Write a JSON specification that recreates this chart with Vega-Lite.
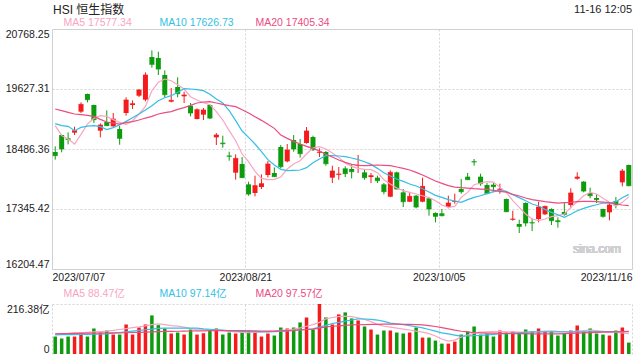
{
  "$schema": "https://vega.github.io/schema/vega-lite/v6.json",
  "background": "white",
  "padding": {"left": 4, "top": 3, "right": 0, "bottom": 0},
  "title": {"text": "HSI 恒生指数", "anchor": "start", "frame": "group", "fontSize": 12, "fontWeight": "normal", "color": "#222222", "dx": 1, "dy": 13, "offset": 0},
  "datasets": {
    "k": [
      {"i":1,"o":18429,"h":18537,"l":18284,"c":18360,"v":75.5,"ma5":18930,"ma10":18968,"ma20":19247,"vma5":87,"vma10":83,"vma20":87},
      {"i":2,"o":18753,"h":18765,"l":18423,"c":18486,"v":66.8,"ma5":18740,"ma10":18930,"ma20":19215,"vma5":88,"vma10":83.5,"vma20":88},
      {"i":3,"o":18689,"h":18803,"l":18575,"c":18670,"v":75.5,"ma5":18676,"ma10":18917,"ma20":19183,"vma5":89,"vma10":84,"vma20":88},
      {"i":4,"o":18797,"h":18911,"l":18752,"c":18835,"v":75.5,"ma5":18581,"ma10":18835,"ma20":19152,"vma5":91,"vma10":84,"vma20":89},
      {"i":5,"o":19196,"h":19373,"l":19171,"c":19335,"v":92.9,"ma5":18765,"ma10":18898,"ma20":19139,"vma5":92,"vma10":84.5,"vma20":89},
      {"i":6,"o":19532,"h":19540,"l":19373,"c":19424,"v":75.5,"ma5":18961,"ma10":18923,"ma20":19126,"vma5":94,"vma10":85,"vma20":90},
      {"i":7,"o":19323,"h":19330,"l":18980,"c":19044,"v":110.4,"ma5":19069,"ma10":18930,"ma20":19107,"vma5":95.5,"vma10":85.5,"vma20":90},
      {"i":8,"o":18835,"h":18974,"l":18708,"c":18942,"v":92.9,"ma5":19120,"ma10":18911,"ma20":19050,"vma5":97,"vma10":85.7,"vma20":90},
      {"i":9,"o":18999,"h":19221,"l":18925,"c":18930,"v":101.6,"ma5":19107,"ma10":18854,"ma20":18999,"vma5":99,"vma10":87,"vma20":91},
      {"i":10,"o":18917,"h":19171,"l":18910,"c":19056,"v":84.2,"ma5":19044,"ma10":18892,"ma20":18980,"vma5":102,"vma10":90,"vma20":91},
      {"i":11,"o":18866,"h":18930,"l":18568,"c":18689,"v":84.2,"ma5":18993,"ma10":18949,"ma20":18961,"vma5":106,"vma10":93,"vma20":91.5},
      {"i":12,"o":19171,"h":19469,"l":19120,"c":19418,"v":127.8,"ma5":18949,"ma10":19012,"ma20":18987,"vma5":110,"vma10":96,"vma20":92},
      {"i":13,"o":19323,"h":19411,"l":19247,"c":19348,"v":84.2,"ma5":19025,"ma10":19082,"ma20":19006,"vma5":114,"vma10":99,"vma20":93},
      {"i":14,"o":19500,"h":19627,"l":19475,"c":19608,"v":114.7,"ma5":19152,"ma10":19152,"ma20":19037,"vma5":117,"vma10":102,"vma20":94},
      {"i":15,"o":19424,"h":19944,"l":19392,"c":19893,"v":127.8,"ma5":19297,"ma10":19228,"ma20":19075,"vma5":122,"vma10":105,"vma20":95},
      {"i":16,"o":20236,"h":20362,"l":20033,"c":20096,"v":167.0,"ma5":19595,"ma10":19310,"ma20":19107,"vma5":127,"vma10":108,"vma20":96},
      {"i":17,"o":20217,"h":20337,"l":19893,"c":20007,"v":124.9,"ma5":19754,"ma10":19405,"ma20":19152,"vma5":130,"vma10":111,"vma20":97},
      {"i":18,"o":19893,"h":19982,"l":19469,"c":19519,"v":110.4,"ma5":19817,"ma10":19462,"ma20":19177,"vma5":127,"vma10":111.8,"vma20":97.5},
      {"i":19,"o":19386,"h":19646,"l":19373,"c":19411,"v":88.6,"ma5":19785,"ma10":19500,"ma20":19196,"vma5":123,"vma10":111.8,"vma20":98},
      {"i":20,"o":19665,"h":19849,"l":19469,"c":19538,"v":92.9,"ma5":19709,"ma10":19564,"ma20":19240,"vma5":121,"vma10":111.8,"vma20":98.5},
      {"i":21,"o":19488,"h":19576,"l":19361,"c":19513,"v":84.2,"ma5":19627,"ma10":19633,"ma20":19272,"vma5":116,"vma10":111.8,"vma20":99},
      {"i":22,"o":19310,"h":19361,"l":19107,"c":19171,"v":106.0,"ma5":19481,"ma10":19627,"ma20":19316,"vma5":110,"vma10":111.8,"vma20":99.5},
      {"i":23,"o":19056,"h":19259,"l":19050,"c":19234,"v":84.2,"ma5":19418,"ma10":19614,"ma20":19361,"vma5":106,"vma10":111.8,"vma20":100},
      {"i":24,"o":19139,"h":19266,"l":19037,"c":19228,"v":90.0,"ma5":19367,"ma10":19595,"ma20":19380,"vma5":105,"vma10":109,"vma20":100.5},
      {"i":25,"o":19323,"h":19335,"l":19056,"c":19075,"v":101.6,"ma5":19329,"ma10":19526,"ma20":19386,"vma5":104,"vma10":107,"vma20":101},
      {"i":26,"o":18708,"h":18790,"l":18562,"c":18752,"v":110.4,"ma5":19196,"ma10":19437,"ma20":19361,"vma5":103,"vma10":105,"vma20":101},
      {"i":27,"o":18606,"h":18740,"l":18511,"c":18587,"v":84.2,"ma5":19037,"ma10":19361,"ma20":19335,"vma5":101,"vma10":103,"vma20":101.5},
      {"i":28,"o":18360,"h":18435,"l":18264,"c":18347,"v":92.9,"ma5":18835,"ma10":19215,"ma20":19310,"vma5":98,"vma10":100,"vma20":101.5},
      {"i":29,"o":18036,"h":18385,"l":17903,"c":18308,"v":88.6,"ma5":18644,"ma10":19025,"ma20":19291,"vma5":96,"vma10":98.7,"vma20":101.5},
      {"i":30,"o":18201,"h":18334,"l":17935,"c":17941,"v":101.6,"ma5":18391,"ma10":18828,"ma20":19234,"vma5":94,"vma10":98,"vma20":101},
      {"i":31,"o":17814,"h":17865,"l":17598,"c":17630,"v":101.6,"ma5":18245,"ma10":18708,"ma20":19171,"vma5":92,"vma10":97.5,"vma20":100.5},
      {"i":32,"o":17649,"h":17979,"l":17586,"c":17789,"v":92.9,"ma5":18061,"ma10":18581,"ma20":19101,"vma5":93,"vma10":97,"vma20":100},
      {"i":33,"o":17763,"h":18004,"l":17725,"c":17827,"v":75.5,"ma5":17928,"ma10":18435,"ma20":19031,"vma5":95,"vma10":96.5,"vma20":99.5},
      {"i":34,"o":17992,"h":18258,"l":17947,"c":18201,"v":88.6,"ma5":17903,"ma10":18283,"ma20":18955,"vma5":97,"vma10":96,"vma20":99},
      {"i":35,"o":18030,"h":18137,"l":17955,"c":17960,"v":79.9,"ma5":17909,"ma10":18182,"ma20":18879,"vma5":99,"vma10":96.5,"vma20":99},
      {"i":36,"o":18524,"h":18562,"l":18118,"c":18150,"v":114.7,"ma5":17953,"ma10":18099,"ma20":18752,"vma5":102,"vma10":98,"vma20":100},
      {"i":37,"o":18251,"h":18581,"l":18232,"c":18467,"v":110.4,"ma5":18106,"ma10":18074,"ma20":18689,"vma5":105,"vma10":100,"vma20":101},
      {"i":38,"o":18657,"h":18752,"l":18435,"c":18486,"v":114.7,"ma5":18201,"ma10":18080,"ma20":18632,"vma5":108,"vma10":102,"vma20":102},
      {"i":39,"o":18581,"h":18676,"l":18321,"c":18397,"v":136.5,"ma5":18264,"ma10":18087,"ma20":18581,"vma5":113,"vma10":104,"vma20":104},
      {"i":40,"o":18600,"h":18904,"l":18587,"c":18828,"v":158.3,"ma5":18391,"ma10":18131,"ma20":18537,"vma5":120,"vma10":106,"vma20":106},
      {"i":41,"o":18714,"h":18740,"l":18448,"c":18473,"v":106.0,"ma5":18505,"ma10":18226,"ma20":18499,"vma5":127,"vma10":109,"vma20":108},
      {"i":42,"o":18416,"h":18499,"l":18334,"c":18429,"v":216.38,"ma5":18530,"ma10":18296,"ma20":18448,"vma5":137,"vma10":116,"vma20":112},
      {"i":43,"o":18429,"h":18448,"l":18169,"c":18207,"v":158.3,"ma5":18486,"ma10":18360,"ma20":18385,"vma5":152,"vma10":124,"vma20":117},
      {"i":44,"o":17941,"h":18169,"l":17839,"c":18068,"v":127.8,"ma5":18410,"ma10":18360,"ma20":18334,"vma5":158,"vma10":132,"vma20":120},
      {"i":45,"o":17998,"h":18144,"l":17903,"c":18011,"v":171.3,"ma5":18327,"ma10":18353,"ma20":18277,"vma5":162,"vma10":137,"vma20":122},
      {"i":46,"o":18118,"h":18156,"l":17953,"c":18017,"v":180.0,"ma5":18220,"ma10":18340,"ma20":18232,"vma5":164,"vma10":142,"vma20":124},
      {"i":47,"o":18106,"h":18194,"l":17928,"c":18055,"v":153.9,"ma5":18156,"ma10":18315,"ma20":18194,"vma5":162,"vma10":147,"vma20":126},
      {"i":48,"o":18163,"h":18372,"l":18030,"c":18175,"v":145.2,"ma5":18118,"ma10":18283,"ma20":18175,"vma5":157,"vma10":152,"vma20":126.5},
      {"i":49,"o":18042,"h":18106,"l":17903,"c":17941,"v":119.1,"ma5":18099,"ma10":18245,"ma20":18169,"vma5":150,"vma10":151.5,"vma20":127},
      {"i":50,"o":17953,"h":18030,"l":17839,"c":17979,"v":106.0,"ma5":18093,"ma10":18194,"ma20":18175,"vma5":140,"vma10":150,"vma20":128},
      {"i":51,"o":17941,"h":17979,"l":17839,"c":17884,"v":84.2,"ma5":18036,"ma10":18118,"ma20":18182,"vma5":128,"vma10":147,"vma20":128.5},
      {"i":52,"o":17814,"h":17839,"l":17624,"c":17675,"v":101.6,"ma5":17903,"ma10":18036,"ma20":18175,"vma5":120,"vma10":141,"vma20":129},
      {"i":53,"o":17579,"h":18080,"l":17572,"c":18042,"v":101.6,"ma5":17820,"ma10":17973,"ma20":18169,"vma5":116,"vma10":134,"vma20":129},
      {"i":54,"o":18042,"h":18055,"l":17718,"c":17725,"v":92.9,"ma5":17744,"ma10":17915,"ma20":18144,"vma5":112,"vma10":130,"vma20":129},
      {"i":55,"o":17662,"h":17725,"l":17383,"c":17484,"v":88.6,"ma5":17694,"ma10":17871,"ma20":18118,"vma5":108,"vma10":127,"vma20":128.5},
      {"i":56,"o":17484,"h":17649,"l":17478,"c":17586,"v":92.9,"ma5":17662,"ma10":17820,"ma20":18087,"vma5":104,"vma10":123,"vma20":128},
      {"i":57,"o":17598,"h":17611,"l":17358,"c":17383,"v":114.7,"ma5":17630,"ma10":17782,"ma20":18042,"vma5":99,"vma10":118,"vma20":127.5},
      {"i":58,"o":17484,"h":17941,"l":17472,"c":17776,"v":71.1,"ma5":17598,"ma10":17732,"ma20":17992,"vma5":95,"vma10":113,"vma20":126},
      {"i":59,"o":17548,"h":17561,"l":17218,"c":17345,"v":71.1,"ma5":17561,"ma10":17668,"ma20":17934,"vma5":88,"vma10":106,"vma20":123},
      {"i":60,"o":17269,"h":17282,"l":17091,"c":17206,"v":58.1,"ma5":17503,"ma10":17605,"ma20":17877,"vma5":78,"vma10":99,"vma20":119},
      {"i":61,"o":17263,"h":17345,"l":17206,"c":17218,"v":45.0,"ma5":17421,"ma10":17567,"ma20":17833,"vma5":65,"vma10":91.5,"vma20":114},
      {"i":62,"o":17383,"h":17598,"l":17358,"c":17459,"v":45.0,"ma5":17377,"ma10":17523,"ma20":17789,"vma5":56,"vma10":87,"vma20":109},
      {"i":63,"o":17478,"h":17637,"l":17446,"c":17491,"v":53.7,"ma5":17396,"ma10":17497,"ma20":17763,"vma5":60,"vma10":82,"vma20":103},
      {"i":64,"o":17725,"h":17915,"l":17637,"c":17675,"v":84.2,"ma5":17567,"ma10":17472,"ma20":17751,"vma5":73,"vma10":77,"vma20":98.5},
      {"i":65,"o":17960,"h":18030,"l":17898,"c":17903,"v":97.3,"ma5":17662,"ma10":17523,"ma20":17744,"vma5":82,"vma10":78,"vma20":96},
      {"i":66,"o":18251,"h":18296,"l":18169,"c":18239,"v":119.1,"ma5":17808,"ma10":17567,"ma20":17732,"vma5":90,"vma10":79.9,"vma20":92},
      {"i":67,"o":17960,"h":18017,"l":17789,"c":17827,"v":84.2,"ma5":17839,"ma10":17598,"ma20":17725,"vma5":95,"vma10":81,"vma20":91},
      {"i":68,"o":17801,"h":17839,"l":17624,"c":17643,"v":88.6,"ma5":17865,"ma10":17637,"ma20":17719,"vma5":96,"vma10":83,"vma20":90.5},
      {"i":69,"o":17808,"h":17839,"l":17662,"c":17770,"v":75.5,"ma5":17858,"ma10":17675,"ma20":17700,"vma5":96.5,"vma10":85,"vma20":90},
      {"i":70,"o":17713,"h":17827,"l":17637,"c":17725,"v":101.6,"ma5":17757,"ma10":17700,"ma20":17681,"vma5":97,"vma10":86.5,"vma20":89.5},
      {"i":71,"o":17535,"h":17542,"l":17288,"c":17294,"v":92.9,"ma5":17662,"ma10":17681,"ma20":17668,"vma5":96,"vma10":88,"vma20":89},
      {"i":72,"o":17142,"h":17313,"l":17123,"c":17155,"v":97.3,"ma5":17503,"ma10":17618,"ma20":17624,"vma5":95.5,"vma10":90,"vma20":88.5},
      {"i":73,"o":17060,"h":17142,"l":16889,"c":17015,"v":92.9,"ma5":17377,"ma10":17561,"ma20":17592,"vma5":95,"vma10":92,"vma20":88},
      {"i":74,"o":17459,"h":17472,"l":17015,"c":17079,"v":106.0,"ma5":17250,"ma10":17503,"ma20":17554,"vma5":95,"vma10":94,"vma20":88},
      {"i":75,"o":17091,"h":17168,"l":16927,"c":17079,"v":97.3,"ma5":17155,"ma10":17440,"ma20":17523,"vma5":95.5,"vma10":95.5,"vma20":87.5},
      {"i":76,"o":17155,"h":17484,"l":17091,"c":17383,"v":110.4,"ma5":17123,"ma10":17402,"ma20":17503,"vma5":97,"vma10":95.8,"vma20":87.5},
      {"i":77,"o":17244,"h":17408,"l":17231,"c":17396,"v":97.3,"ma5":17155,"ma10":17339,"ma20":17484,"vma5":99,"vma10":95.8,"vma20":87},
      {"i":78,"o":17345,"h":17358,"l":17041,"c":17123,"v":97.3,"ma5":17199,"ma10":17282,"ma20":17472,"vma5":100,"vma10":95.8,"vma20":87},
      {"i":79,"o":17130,"h":17187,"l":16990,"c":17104,"v":79.9,"ma5":17218,"ma10":17237,"ma20":17459,"vma5":98,"vma10":95.8,"vma20":87.5},
      {"i":80,"o":17288,"h":17472,"l":17218,"c":17244,"v":88.6,"ma5":17250,"ma10":17187,"ma20":17465,"vma5":97,"vma10":95.8,"vma20":88},
      {"i":81,"o":17421,"h":17738,"l":17358,"c":17649,"v":101.6,"ma5":17377,"ma10":17244,"ma20":17472,"vma5":96,"vma10":95.8,"vma20":89},
      {"i":82,"o":17922,"h":18042,"l":17903,"c":17953,"v":123.4,"ma5":17484,"ma10":17313,"ma20":17484,"vma5":99,"vma10":96,"vma20":90},
      {"i":83,"o":17865,"h":17877,"l":17662,"c":17687,"v":97.3,"ma5":17598,"ma10":17358,"ma20":17491,"vma5":101,"vma10":96,"vma20":91},
      {"i":84,"o":17649,"h":17751,"l":17548,"c":17598,"v":110.4,"ma5":17662,"ma10":17396,"ma20":17491,"vma5":103,"vma10":96.2,"vma20":92.5},
      {"i":85,"o":17554,"h":17624,"l":17459,"c":17523,"v":88.6,"ma5":17630,"ma10":17427,"ma20":17484,"vma5":101,"vma10":96.4,"vma20":93.5},
      {"i":86,"o":17345,"h":17352,"l":17180,"c":17206,"v":84.2,"ma5":17548,"ma10":17459,"ma20":17478,"vma5":98,"vma10":96.6,"vma20":94.5},
      {"i":87,"o":17282,"h":17472,"l":17130,"c":17421,"v":79.9,"ma5":17472,"ma10":17459,"ma20":17465,"vma5":95,"vma10":96.8,"vma20":95.5},
      {"i":88,"o":17497,"h":17573,"l":17358,"c":17421,"v":101.6,"ma5":17408,"ma10":17484,"ma20":17440,"vma5":93,"vma10":97,"vma20":96},
      {"i":89,"o":17852,"h":18106,"l":17776,"c":18068,"v":114.7,"ma5":17472,"ma10":17561,"ma20":17421,"vma5":91,"vma10":97.1,"vma20":97},
      {"i":90,"o":18182,"h":18190,"l":17776,"c":17789,"v":49.4,"ma5":17580,"ma10":17624,"ma20":17408,"vma5":88.5,"vma10":97.14,"vma20":97.6}
    ]
  },
  "spacing": 35,
  "bounds": "flush",
  "resolve": {"scale": {"x": "independent", "y": "independent", "color": "independent"}, "legend": {"color": "independent"}},
  "vconcat": [
    {
      "width": 580,
      "height": 240,
      "view": {"stroke": "#cccccc", "strokeWidth": 1},
      "title": {"text": "11-16 12:05", "anchor": "end", "frame": "group", "fontSize": 11, "fontWeight": "normal", "color": "#222222", "offset": 3},
      "data": {"name": "k"},
      "encoding": {
        "x": {"field": "i", "type": "quantitative", "scale": {"domain": [0.5, 90.5], "nice": false, "zero": false, "padding": 0},
          "axis": {"values": [0.5, 30.5, 60.5, 90.5], "labelExpr": "datum.value < 1 ? '2023/07/07' : datum.value < 31 ? '2023/08/21' : datum.value < 61 ? '2023/10/05' : '2023/11/16'", "labelFlush": true, "ticks": false, "domain": false, "grid": true, "gridDash": [2, 2], "gridColor": "#d4d4d4", "labelPadding": 3, "labelFontSize": 10.5, "labelColor": "#222222", "title": null}}
      },
      "layer": [
        {
          "mark": {"type": "rule", "strokeWidth": 1},
          "encoding": {
            "y": {"field": "l", "type": "quantitative", "scale": {"domain": [16204.47, 20768.25], "nice": false, "zero": false, "padding": 0},
              "axis": {"values": [16204.47, 17345.42, 18486.36, 19627.31, 20768.25], "format": ".2f", "labelFlush": true, "ticks": false, "domain": false, "grid": true, "gridDash": [2, 2], "gridColor": "#d4d4d4", "labelPadding": 3, "labelFontSize": 10.5, "labelColor": "#222222", "title": null}},
            "y2": {"field": "h"},
            "color": {"condition": {"test": "datum.c >= datum.o", "value": "#f31b1b"}, "value": "#0d9a0d"}
          }
        },
        {
          "mark": {"type": "bar", "size": 5},
          "encoding": {
            "y": {"field": "o", "type": "quantitative"},
            "y2": {"field": "c"},
            "color": {"condition": {"test": "datum.c >= datum.o", "value": "#f31b1b"}, "value": "#0d9a0d"}
          }
        },
        {
          "mark": {"type": "tick", "orient": "horizontal", "size": 5, "thickness": 1},
          "encoding": {
            "y": {"field": "c", "type": "quantitative"},
            "color": {"condition": {"test": "datum.c >= datum.o", "value": "#f31b1b"}, "value": "#0d9a0d"}
          }
        },
        {
          "transform": [{"fold": ["ma5", "ma10", "ma20"], "as": ["k", "val"]}],
          "mark": {"type": "line", "strokeWidth": 1.2},
          "encoding": {
            "y": {"field": "val", "type": "quantitative"},
            "color": {"field": "k", "type": "nominal",
              "scale": {"domain": ["ma5", "ma10", "ma20"], "range": ["#f8a5c2", "#34bfe4", "#ec4c7f"]},
              "legend": {"orient": "none", "legendX": 0, "legendY": -11, "direction": "horizontal", "columns": 3, "title": null,
                "labelExpr": "datum.value === 'ma5' ? 'MA5 17577.34' : datum.value === 'ma10' ? 'MA10 17626.73' : 'MA20 17405.34'",
                "labelFontSize": 10.5, "symbolSize": 0, "symbolOpacity": 0, "symbolStrokeWidth": 0, "labelOffset": 1, "columnPadding": 10, "gridAlign": "all", "padding": 0,
                "encode": {"labels": {"update": {"fill": {"signal": "datum.value === 'ma5' ? '#f8a5c2' : datum.value === 'ma10' ? '#34bfe4' : '#ec4c7f'"}}}}}
            }
          }
        },
        {
          "mark": {"type": "text", "align": "right", "baseline": "middle", "fontSize": 12, "color": "#d0d0d0"},
          "encoding": {"x": {"datum": 88.8}, "y": {"datum": 16594}, "text": {"value": "sina.com"}}
        }
      ]
    },
    {
      "width": 580,
      "height": 50,
      "view": {"stroke": null},
      "data": {"name": "k"},
      "encoding": {
        "x": {"field": "i", "type": "quantitative", "scale": {"domain": [0.5, 90.5], "nice": false, "zero": false, "padding": 0},
          "axis": {"values": [0.5, 30.5, 60.5, 90.5], "labels": false, "ticks": false, "domain": false, "grid": true, "gridDash": [2, 2], "gridColor": "#d4d4d4", "title": null}}
      },
      "layer": [
        {
          "mark": {"type": "bar", "size": 3.5},
          "encoding": {
            "y": {"field": "v", "type": "quantitative", "scale": {"domain": [0, 216.38], "nice": false, "padding": 0},
              "axis": {"values": [0, 216.38], "labelExpr": "datum.value > 1 ? '216.38亿' : '0'", "labelFlush": true, "ticks": false, "domain": false, "grid": true, "gridDash": [2, 2], "gridColor": "#d4d4d4", "gridOpacity": {"condition": {"test": "datum.value === 0", "value": 0}, "value": 1}, "labelPadding": 3, "labelFontSize": 10.5, "labelColor": "#222222", "title": null}},
            "color": {"condition": {"test": "datum.c >= datum.o", "value": "#f31b1b"}, "value": "#0d9a0d"}
          }
        },
        {
          "transform": [{"fold": ["vma5", "vma10", "vma20"], "as": ["k", "val"]}],
          "mark": {"type": "line", "strokeWidth": 1.2},
          "encoding": {
            "y": {"field": "val", "type": "quantitative"},
            "color": {"field": "k", "type": "nominal",
              "scale": {"domain": ["vma5", "vma10", "vma20"], "range": ["#f8a5c2", "#34bfe4", "#ec4c7f"]},
              "legend": {"orient": "none", "legendX": 0, "legendY": -15, "direction": "horizontal", "columns": 3, "title": null,
                "labelExpr": "datum.value === 'vma5' ? 'MA5 88.47亿' : datum.value === 'vma10' ? 'MA10 97.14亿' : 'MA20 97.57亿'",
                "labelFontSize": 10.5, "symbolSize": 0, "symbolOpacity": 0, "symbolStrokeWidth": 0, "labelOffset": 1, "columnPadding": 17, "gridAlign": "all", "padding": 0,
                "encode": {"labels": {"update": {"fill": {"signal": "datum.value === 'vma5' ? '#f8a5c2' : datum.value === 'vma10' ? '#34bfe4' : '#ec4c7f'"}}}}}
            }
          }
        }
      ]
    }
  ],
  "config": {
    "font": "Liberation Sans, Noto Sans CJK SC, sans-serif",
    "axis": {"labelFont": "Liberation Sans, Noto Sans CJK SC, sans-serif"},
    "legend": {"labelFont": "Liberation Sans, Noto Sans CJK SC, sans-serif"},
    "title": {"font": "Liberation Sans, Noto Sans CJK SC, sans-serif"}
  }
}
